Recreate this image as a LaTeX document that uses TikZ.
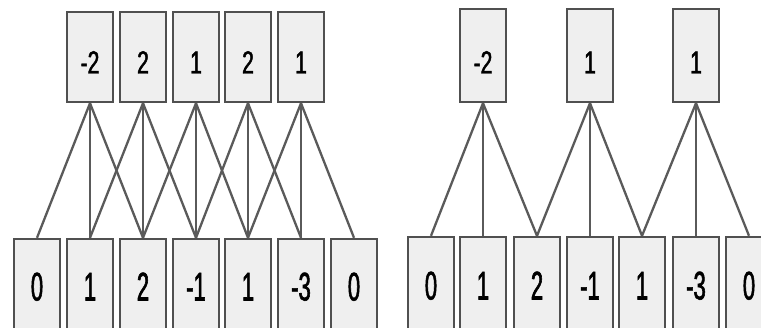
\documentclass[tikz,border=0pt]{standalone}
\usepackage{fontspec}
\setmainfont{Liberation Sans}
\newfontfamily\topfont{Liberation Sans}[FakeStretch=0.66,FakeBold=1.4]
\newfontfamily\botfont{Liberation Sans}[FakeStretch=0.55,FakeBold=1.4]
\definecolor{boxfill}{HTML}{EFEFEF}
\definecolor{boxline}{HTML}{505050}
\definecolor{edgeline}{HTML}{5A5A5A}
\tikzset{
  cell/.style={draw=boxline, line width=2.4pt, fill=boxfill, rectangle,
    minimum width=46pt, inner sep=0pt, text depth=0pt},
  topcell/.style={cell, minimum height=90pt, font=\topfont\fontsize{32}{32}\selectfont},
  botcell/.style={cell, minimum height=100pt, font=\botfont\fontsize{40}{40}\selectfont},
  edge/.style={draw=edgeline, line width=2.3pt}
}
\begin{document}
\begin{tikzpicture}[x=1pt,y=-1pt]
\useasboundingbox (0,0) rectangle (761,328);
\clip (0,0) rectangle (761,328);
% ---------- left: stride 1 ----------
\foreach \n/\x/\t in {a1/90/-2,a2/143/2,a3/196/1,a4/248/2,a5/301/1}
  \node[topcell, text height=33pt] (\n) at (\x,57) {\t};
\foreach \n/\x/\t in {b1/37/0,b2/90/1,b3/143/2,b4/196/-1,b5/248/1,b6/301/-3,b7/354/0}
  \node[botcell, text height=23pt] (\n) at (\x,289) {\t};
\foreach \i in {1,...,5}{
  \pgfmathtruncatemacro{\j}{\i+1}
  \pgfmathtruncatemacro{\k}{\i+2}
  \draw[edge] (a\i.south) -- (b\i.north);
  \draw[edge] (a\i.south) -- (b\j.north);
  \draw[edge] (a\i.south) -- (b\k.north);
}
% ---------- right: stride 2 ----------
\foreach \n/\x/\t in {c1/483/-2,c2/590/1,c3/696/1}
  \node[topcell, minimum height=93pt, text height=36pt] (\n) at (\x,55.5) {\t};
\foreach \n/\x/\t in {d1/431/0,d2/483/1,d3/537/2,d4/590/-1,d5/642/1,d6/696/-3,d7/749/0}
  \node[botcell, text height=25pt] (\n) at (\x,287) {\t};
\foreach \i/\p/\q/\r in {1/1/2/3,2/3/4/5,3/5/6/7}{
  \draw[edge] (c\i.south) -- (d\p.north);
  \draw[edge] (c\i.south) -- (d\q.north);
  \draw[edge] (c\i.south) -- (d\r.north);
}
\end{tikzpicture}
\end{document}
